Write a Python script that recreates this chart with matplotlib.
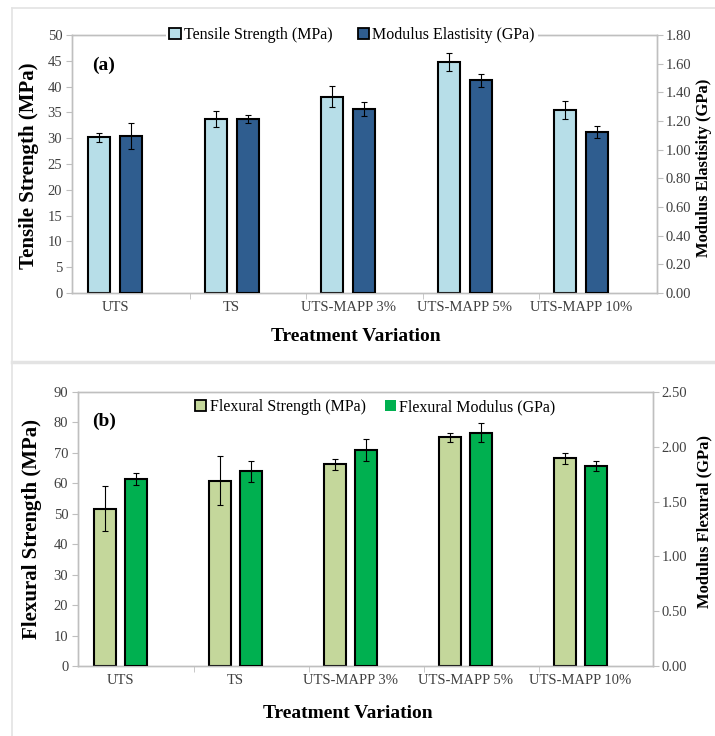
import matplotlib
matplotlib.use('Agg')
import matplotlib.pyplot as plt
from matplotlib.patches import Patch
from matplotlib.lines import Line2D
from matplotlib.ticker import FormatStrFormatter
import numpy as np

plt.rcParams['font.family'] = ['Liberation Serif', 'DejaVu Serif']

categories = ['UTS', 'TS', 'UTS-MAPP 3%', 'UTS-MAPP 5%', 'UTS-MAPP 10%']

# (a) tensile test
tensile = [30.2, 33.7, 38.05, 44.8, 35.5]
tensile_err = [0.9, 1.6, 2.05, 1.75, 1.7]
elastic = [1.096, 1.213, 1.284, 1.484, 1.122]
elastic_err = [0.088, 0.03, 0.047, 0.046, 0.044]

# (b) flexural test
flex_str = [51.7, 60.9, 66.2, 75.1, 68.3]
flex_str_err = [7.3, 8.0, 1.8, 1.5, 1.8]
flex_mod = [1.71, 1.776, 1.97, 2.13, 1.825]
flex_mod_err = [0.055, 0.095, 0.10, 0.09, 0.045]

W, H = 715, 736
fig = plt.figure(figsize=(W / 100, H / 100), dpi=100)

GRID = '#bfbfbf'
TICK = '#404040'


def px_axes(l, t, r, b):
    return fig.add_axes([l / W, 1 - b / H, (r - l) / W, (b - t) / H])


def style(ax, ax2, ymax_l, step_l, ymax_r, step_r, fmt_r):
    x = np.arange(len(categories))
    ax.set_ylim(0, ymax_l)
    ax.set_yticks(np.arange(0, ymax_l + 0.01, step_l))
    ax2.set_ylim(0, ymax_r)
    ax2.set_yticks(np.arange(0, ymax_r + 0.001, step_r))
    ax2.yaxis.set_major_formatter(FormatStrFormatter(fmt_r))
    ax.set_xticks(x)
    ax.set_xticklabels(categories)
    ax.set_xticks(x[:-1] + 0.64, minor=True)
    ax.tick_params(axis='x', which='major', length=0, pad=6, labelsize=10.5, labelcolor=TICK)
    ax.tick_params(axis='x', which='minor', length=4, color=GRID, direction='out')
    ax.tick_params(axis='y', length=4, color=GRID, labelsize=10.5, labelcolor=TICK, pad=3)
    ax2.tick_params(axis='y', length=4, color=GRID, labelsize=10.5, labelcolor=TICK, pad=2)
    for a in (ax, ax2):
        for s in a.spines.values():
            s.set_color(GRID)
            s.set_linewidth(1.0)


def bars(ax, ax2, v1, e1, v2, e2, c1, c2):
    x = np.arange(len(categories))
    w = 0.19
    ax.bar(x - 0.137, v1, w, color=c1, edgecolor='black', linewidth=1.5, zorder=3)
    ax.errorbar(x - 0.137, v1, yerr=e1, fmt='none', ecolor='black', elinewidth=0.8,
                capsize=2, capthick=0.8, zorder=4)
    ax2.bar(x + 0.137, v2, w, color=c2, edgecolor='black', linewidth=1.5, zorder=3)
    ax2.errorbar(x + 0.137, v2, yerr=e2, fmt='none', ecolor='black', elinewidth=0.8,
                 capsize=2, capthick=0.8, zorder=4)


# ---- panel (a)
ax_a = px_axes(72, 35, 657, 293)
ax_a2 = ax_a.twinx()
ax_a.set_xlim(-0.37, 4.65)
style(ax_a, ax_a2, 50, 5, 1.8, 0.2, '%.2f')
bars(ax_a, ax_a2, tensile, tensile_err, elastic, elastic_err, '#b7dee8', '#2f5d8f')
ax_a.text(0.034, 0.884, '(a)', transform=ax_a.transAxes, fontsize=14, fontweight='bold', va='center')
hand_a = [Patch(facecolor='#b7dee8', edgecolor='black', linewidth=1.3),
          Patch(facecolor='#2f5d8f', edgecolor='black', linewidth=1.3)]
leg = ax_a2.legend(hand_a, ['Tensile Strength (MPa)', 'Modulus Elastisity (GPa)'],
                   loc='center', bbox_to_anchor=(0.479, 1.0), ncol=2, fontsize=11.5,
                   frameon=True, framealpha=1, edgecolor='none', fancybox=False,
                   handlelength=0.7, handleheight=0.7, handletextpad=0.2,
                   columnspacing=1.6, borderpad=0.2, borderaxespad=0)
leg.set_zorder(10)

# ---- panel (b)
ax_b = px_axes(78, 392, 653, 666)
ax_b2 = ax_b.twinx()
ax_b.set_xlim(-0.37, 4.63)
style(ax_b, ax_b2, 90, 10, 2.5, 0.5, '%.2f')
bars(ax_b, ax_b2, flex_str, flex_str_err, flex_mod, flex_mod_err, '#c4d79b', '#00b050')
ax_b.text(0.024, 0.894, '(b)', transform=ax_b.transAxes, fontsize=14, fontweight='bold', va='center')
hand_b = [Patch(facecolor='#c4d79b', edgecolor='black', linewidth=1.3),
          Patch(facecolor='#00b050', edgecolor='none')]
ax_b2.legend(hand_b, ['Flexural Strength (MPa)', 'Flexural Modulus (GPa)'],
             loc='center', bbox_to_anchor=(0.517, 0.945), ncol=2, fontsize=11.5,
             frameon=False, handlelength=0.7, handleheight=0.7, handletextpad=0.2,
             columnspacing=1.2, borderaxespad=0)

# ---- axis titles
lab = dict(fontweight='bold', color='black')
fig.text(356 / W, 1 - 337 / H, 'Treatment Variation', ha='center', va='center', fontsize=14, **lab)
fig.text(348 / W, 1 - 713 / H, 'Treatment Variation', ha='center', va='center', fontsize=14, **lab)
fig.text(29 / W, 1 - 166 / H, 'Tensile Strength (MPa)', rotation=90, ha='center', va='center', fontsize=15, **lab)
fig.text(32 / W, 1 - 529 / H, 'Flexural Strength (MPa)', rotation=90, ha='center', va='center', fontsize=15, **lab)
fig.text(696 / W, 1 - 168 / H, 'Modulus Elastisity (GPa)', rotation=90, ha='left', va='center', fontsize=12, **lab)
fig.text(696 / W, 1 - 521 / H, 'Modulus Flexural (GPa)', rotation=90, ha='left', va='center', fontsize=12, **lab)

# ---- panel borders
bc = '#e3e3e3'
for xs, ys, lw in [([12, 12], [8, 361], 1.2), ([12, W], [8, 8], 1.2),
                   ([12, W], [362, 362], 2.5), ([12, 12], [363, H], 1.2)]:
    fig.add_artist(Line2D([x / W for x in xs], [1 - y / H for y in ys], color=bc, linewidth=lw))

fig.savefig('out.png', dpi=100)
